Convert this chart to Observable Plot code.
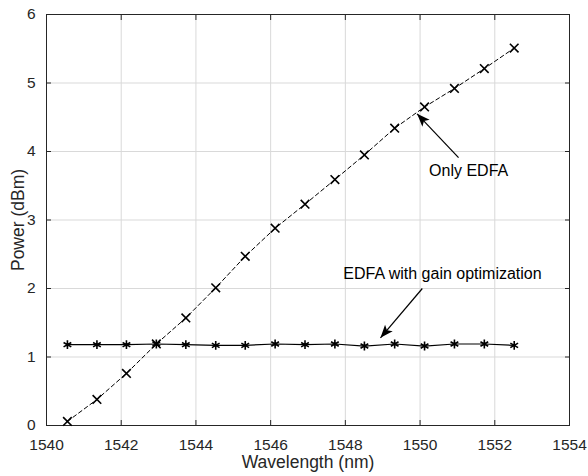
<!DOCTYPE html>
<html>
<head>
<meta charset="utf-8">
<script src="https://cdn.jsdelivr.net/npm/d3@7"></script>
<script src="https://cdn.jsdelivr.net/npm/@observablehq/plot@0.6"></script>
<style>
  html, body { margin: 0; padding: 0; background: #fff; }
  #chart { width: 588px; height: 476px; }
</style>
</head>
<body>
<div id="chart"></div>
<script>
const wavelength = [1540.56, 1541.35, 1542.14, 1542.94, 1543.73, 1544.53, 1545.32, 1546.12,
                    1546.92, 1547.72, 1548.51, 1549.32, 1550.12, 1550.92, 1551.72, 1552.52];
const onlyEdfa   = [0.06, 0.38, 0.76, 1.19, 1.57, 2.01, 2.47, 2.88,
                    3.23, 3.59, 3.95, 4.34, 4.65, 4.92, 5.21, 5.51];
const gainOpt    = [1.18, 1.18, 1.18, 1.19, 1.18, 1.17, 1.17, 1.19,
                    1.18, 1.19, 1.16, 1.19, 1.16, 1.19, 1.19, 1.17];
const xTicks = [1540, 1542, 1544, 1546, 1548, 1550, 1552, 1554];
const yTicks = [0, 1, 2, 3, 4, 5, 6];
const xLabel = "Wavelength (nm)";
const yLabel = "Power (dBm)";
const noteText  = ["Only EDFA", "EDFA with gain optimization"];
const noteTextX = [1551.3, 1550.6];
const noteTextY = [3.71, 2.22];
const arrowX1 = [1551.03, 1550.06];
const arrowY1 = [3.91, 2.0];
const arrowX2 = [1549.92, 1548.94];
const arrowY2 = [4.55, 1.28];

const edfaData = wavelength.map((w, i) => ({w, p: onlyEdfa[i]}));
const optData = wavelength.map((w, i) => ({w, p: gainOpt[i]}));
const notes = noteText.map((t, i) => ({t, x: noteTextX[i], y: noteTextY[i]}));
const arrows = arrowX1.map((x1, i) => ({x1, y1: arrowY1[i], x2: arrowX2[i], y2: arrowY2[i]}));

const ink = "#262626";
const plot = Plot.plot({
  width: 588,
  height: 476,
  marginLeft: 46,
  marginRight: 19,
  marginTop: 14,
  marginBottom: 51,
  style: {fontFamily: "'Liberation Sans', Arial, sans-serif", fontSize: "15.5px", color: ink, background: "#fff"},
  x: {domain: [1540, 1554]},
  y: {domain: [0, 6]},
  marks: [
    Plot.gridX(xTicks, {stroke: "#d9d9d9", strokeOpacity: 1}),
    Plot.gridY(yTicks, {stroke: "#d9d9d9", strokeOpacity: 1}),
    Plot.frame({stroke: ink, strokeWidth: 1}),
    Plot.axisX(xTicks, {anchor: "bottom", tickSize: -5, tickPadding: 18, stroke: ink, fill: ink, fontSize: 15.5,
      tickFormat: "d", label: null}),
    Plot.axisX(xTicks, {anchor: "top", tickSize: -5, stroke: ink, tickFormat: () => "", label: null}),
    Plot.axisY(yTicks, {anchor: "left", tickSize: -5, tickPadding: 16, stroke: ink, fill: ink, fontSize: 15.5,
      tickFormat: "d", label: null}),
    Plot.axisY(yTicks, {anchor: "right", tickSize: -5, stroke: ink, tickFormat: () => "", label: null}),
    Plot.text([xLabel], {text: d => d, frameAnchor: "bottom", lineAnchor: "middle", textAnchor: "middle",
      dy: 37, fill: ink, fontSize: 17.5}),
    Plot.text([yLabel], {text: d => d, frameAnchor: "left", lineAnchor: "middle", textAnchor: "middle",
      dx: -28, rotate: -90, fill: ink, fontSize: 17.5}),
    Plot.line(edfaData, {x: "w", y: "p", stroke: "#000", strokeWidth: 1, strokeDasharray: "4,3"}),
    Plot.line(optData, {x: "w", y: "p", stroke: "#000", strokeWidth: 1.2}),
    Plot.dot(edfaData, {x: "w", y: "p", symbol: "times", r: 4, stroke: "#000", strokeWidth: 1.6}),
    Plot.dot(optData, {x: "w", y: "p", symbol: "asterisk", r: 4.2, stroke: "#000", strokeWidth: 1.6}),
    Plot.link(arrows, {x1: "x1", y1: "y1", x2: "x2", y2: "y2", stroke: "#000", strokeWidth: 1.2, markerEnd: "arrow"}),
    Plot.text(notes, {x: "x", y: "y", text: "t", fill: "#000", fontSize: 16})
  ]
});

// Replace the default open arrow marker with a filled MATLAB-style head
d3.select(plot).selectAll("marker").each(function() {
  const m = d3.select(this);
  m.attr("viewBox", "-14 -6 16 12")
   .attr("markerUnits", "userSpaceOnUse")
   .attr("markerWidth", 16).attr("markerHeight", 12)
   .attr("refX", 0).attr("refY", 0)
   .attr("orient", "auto");
  m.selectAll("*").remove();
  m.append("path").attr("d", "M0,0L-13,-5L-10,0L-13,5Z").attr("fill", "#000").attr("stroke", "none");
});

document.getElementById("chart").appendChild(plot);
</script>
</body>
</html>
